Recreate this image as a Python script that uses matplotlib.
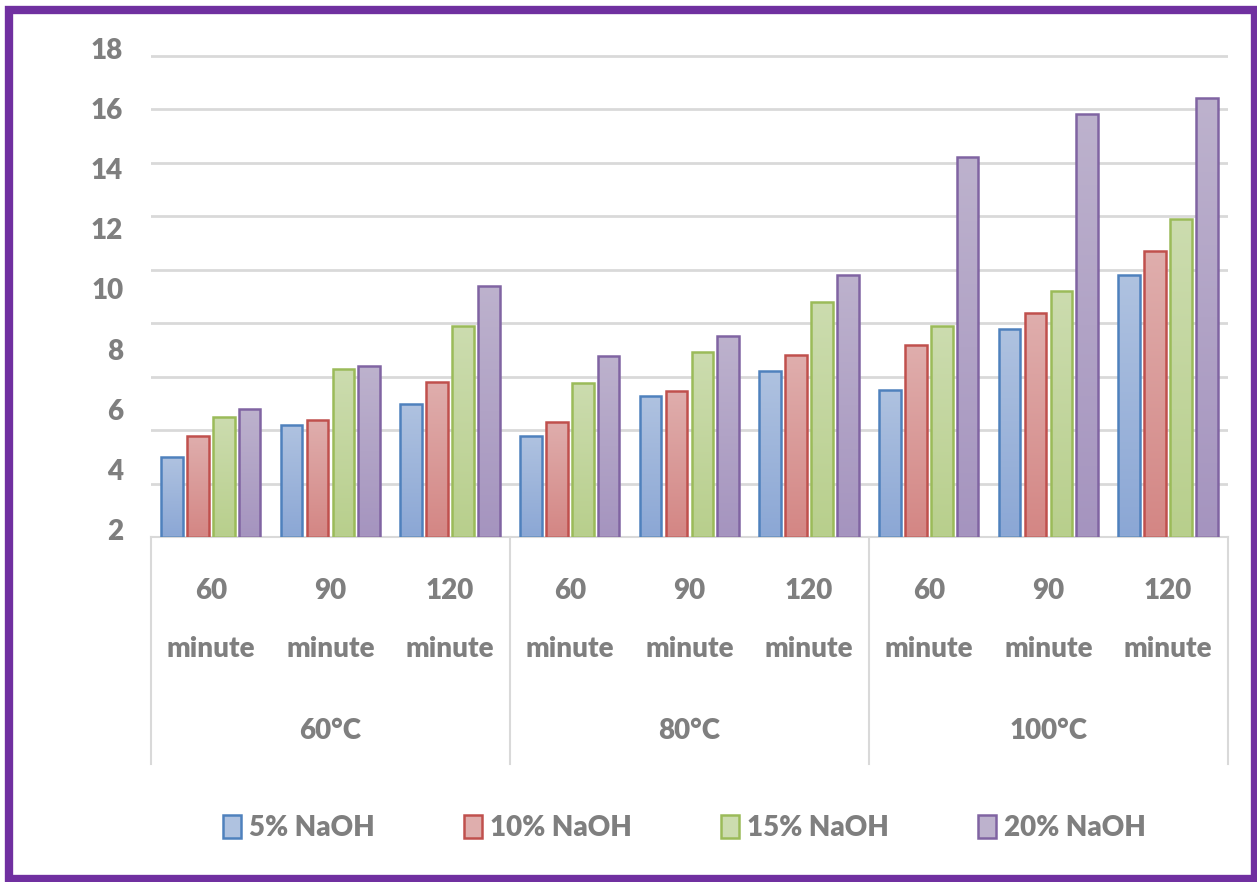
import numpy as np
import matplotlib.pyplot as plt
from matplotlib.colors import LinearSegmentedColormap
from matplotlib.patches import Rectangle
from matplotlib.transforms import ScaledTranslation

plt.rcParams['font.family'] = ['Lato', 'DejaVu Sans']
plt.rcParams['font.weight'] = 'heavy'

times = ["60", "90", "120"]
temps = ["60°C", "80°C", "100°C"]
series = ["5% NaOH", "10% NaOH", "15% NaOH", "20% NaOH"]

# one value per time/temperature pair, in the order 60°C (60, 90, 120 min), 80°C ..., 100°C ...
naoh_5 = [4.66, 5.72, 6.42, 5.36, 6.69, 7.52, 6.89, 8.93, 10.71]
naoh_10 = [5.37, 5.89, 7.16, 5.83, 6.87, 8.05, 8.39, 9.46, 11.51]
naoh_15 = [5.99, 7.59, 9.01, 7.13, 8.15, 9.82, 9.02, 10.19, 12.58]
naoh_20 = [6.25, 7.68, 10.36, 8.03, 8.69, 10.72, 14.63, 16.06, 16.59]

yticks = [2, 4, 6, 8, 10, 12, 14, 16, 18]

edge_cols = ["#4F81BD", "#C0504D", "#9BBB59", "#8064A2"]
top_cols = ["#AFC2E0", "#DFAEAD", "#CCDCAF", "#BDB2CD"]
bot_cols = ["#8BA7D5", "#D48684", "#B8CF8C", "#A594BF"]

grey = "#7F7F7F"
line_grey = "#D9D9D9"

fig = plt.figure(figsize=(12.57, 8.82), dpi=100)
ax = fig.add_axes([0.1201, 0.3912, 0.8568, 0.5487])

x = np.arange(len(naoh_5))
pitch = 0.2165
width = 0.181
grad = np.linspace(1, 0, 256).reshape(-1, 1)

for i, vals in enumerate([naoh_5, naoh_10, naoh_15, naoh_20]):
    pos = x + (i - 1.5) * pitch
    bars = ax.bar(pos, np.array(vals) - 2, width, bottom=2, color="none",
                  edgecolor=edge_cols[i], linewidth=1.8, zorder=3, label=series[i])
    cmap = LinearSegmentedColormap.from_list("g%d" % i, [bot_cols[i], top_cols[i]])
    for b in bars:
        x0, y0 = b.get_x(), b.get_y()
        im = ax.imshow(grad, cmap=cmap, aspect="auto", zorder=2,
                       extent=[x0, x0 + b.get_width(), y0, y0 + b.get_height()])
        im.set_clip_path(b)

ax.set_xlim(-0.5, 8.5)
ax.set_ylim(2, 18.1)

# horizontal grid, nine equal steps between the baseline and the top line
for g in np.linspace(2, 18, 10)[1:]:
    ax.axhline(g, color=line_grey, linewidth=2, zorder=1)

for s in ["top", "right", "left"]:
    ax.spines[s].set_visible(False)
ax.spines["bottom"].set_color(line_grey)
ax.spines["bottom"].set_linewidth(1.5)

ax.set_yticks(yticks)
ax.set_yticklabels([str(t) for t in yticks])
ax.tick_params(axis="y", length=0, pad=20, labelsize=20, labelcolor=grey)
for lbl in ax.get_yticklabels():
    lbl.set_transform(lbl.get_transform() + ScaledTranslation(0, 7.5 / 100, fig.dpi_scale_trans))

ax.set_xticks([])

# category labels: time on two lines, temperature beneath each group of three
xt = ax.get_xaxis_transform()
for j in range(9):
    ax.text(x[j], -0.112, times[j % 3], transform=xt,
            ha="center", va="center", fontsize=20, color=grey)
    ax.text(x[j], -0.232, "minute", transform=xt,
            ha="center", va="center", fontsize=20, color=grey)
for k in range(3):
    ax.text(x[3 * k + 1], -0.40, temps[k], transform=xt,
            ha="center", va="center", fontsize=20, color=grey)

for bx in [-0.5, 2.5, 5.5, 8.5]:
    ax.axvline(bx, ymin=-0.47, ymax=0, color=line_grey, linewidth=1.5, clip_on=False)

handles = [Rectangle((0, 0), 1, 1, facecolor=(top_cols[i]), edgecolor=edge_cols[i], linewidth=1.8)
           for i in range(4)]
leg = fig.legend(handles, series, loc="center", bbox_to_anchor=(0.5446, 0.061), ncol=4,
                 frameon=False, fontsize=20, handlelength=0.65, handleheight=0.9,
                 handletextpad=0.3, columnspacing=3.2)
for t in leg.get_texts():
    t.set_color(grey)

# purple frame round the whole chart
fig.add_artist(Rectangle((0.0072, 0.0034), 0.9912, 0.9852, transform=fig.transFigure,
                         fill=False, edgecolor="#7030A0", linewidth=6))

fig.savefig("out.png", dpi=100)
